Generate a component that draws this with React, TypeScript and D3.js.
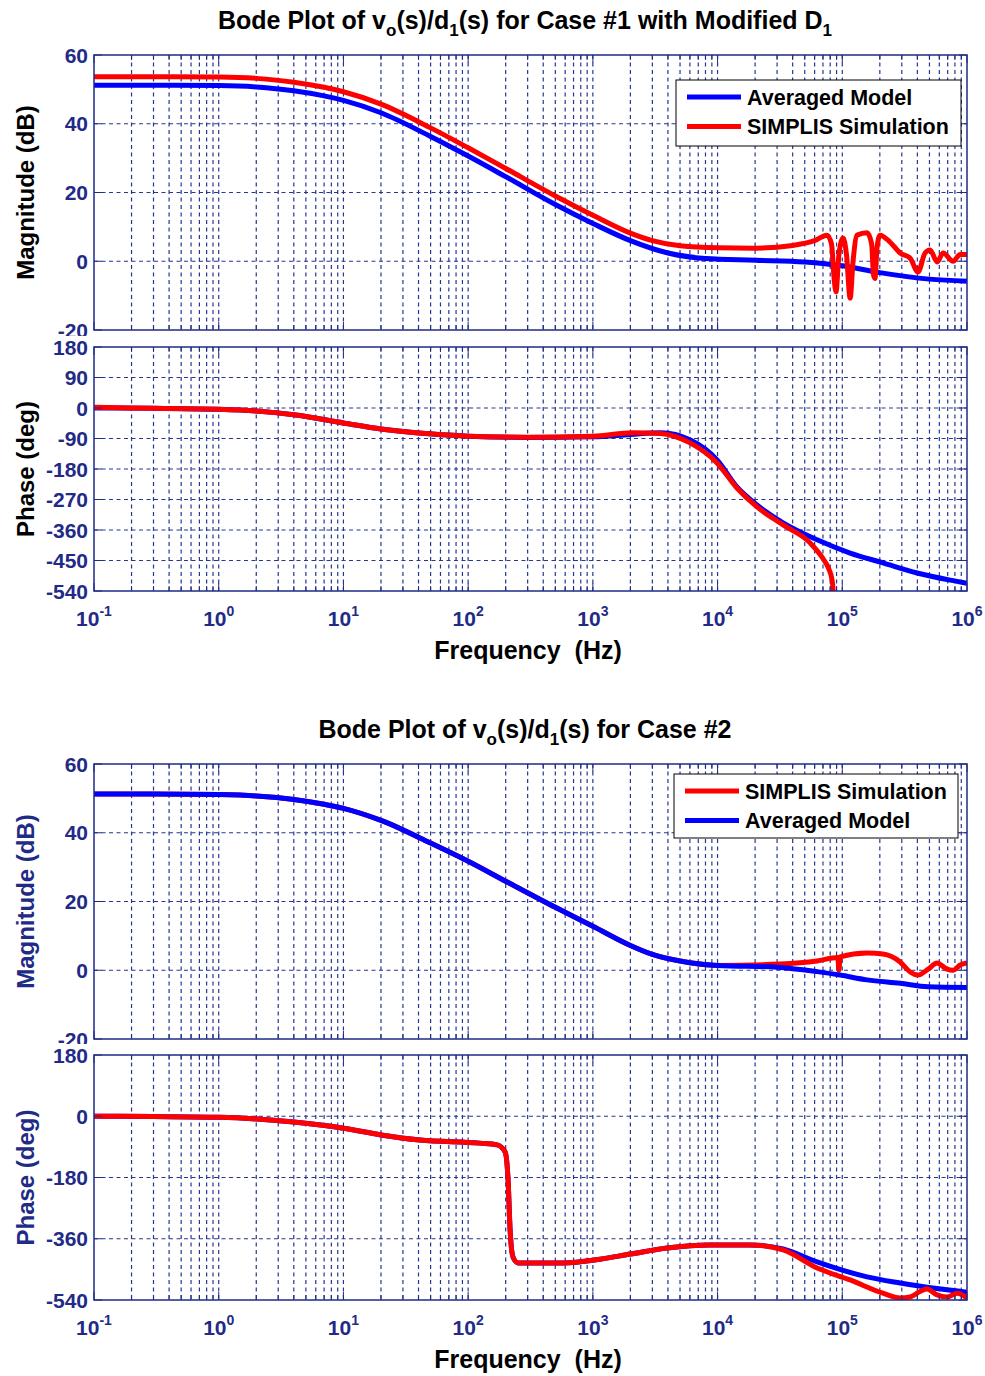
import React, { useEffect, useRef } from 'react'
import * as d3 from 'd3'

// axis ticks
const decades = [-1, 0, 1, 2, 3, 4, 5, 6]
const magTicks = [60, 40, 20, 0, -20]
const phaseTicksCase1 = [180, 90, 0, -90, -180, -270, -360, -450, -540]
const phaseTicksCase2 = [180, 0, -180, -360, -540]

type Pt = [number, number] // [frequency in Hz, value]

// Case #1 magnitude (dB)
const case1MagAveraged: Pt[] = [
  [0.1, 51.2], [0.3, 51.2], [1, 51.1], [2, 50.7], [4, 49.6], [7, 48.1], [10, 46.8],
  [20, 43.2], [50, 36.3], [100, 30.6], [200, 24.6], [500, 16.5], [1000, 11], [2000, 6],
  [4000, 2.4], [8000, 0.8], [20000, 0.3], [50000, -0.2], [100000, -1.3], [200000, -3.3],
  [500000, -5.2], [1000000, -5.8],
]
const case1MagSimplis: Pt[] = [
  [0.1, 53.7], [0.3, 53.7], [1, 53.6], [2, 53.2], [4, 52.1], [7, 50.6], [10, 49.3],
  [20, 45.7], [50, 38.8], [100, 33], [200, 27], [500, 19], [1000, 13.4], [2000, 8.2],
  [3000, 6], [5000, 4.5], [10000, 3.9], [20000, 3.8], [40000, 4.6], [60000, 6], [75500, 7.6],
  [82000, 5], [86000, -5], [89000, -8.9], [94000, 2], [101500, 6.8], [108000, 2],
  [115600, -10.7], [122000, 0], [131500, 7.6], [158000, 8.3], [172000, 5], [178000, -4],
  [183000, -5], [190000, 4], [201000, 7.6], [241000, 5.6], [291000, 2.4], [350000, 0.9],
  [405000, -3.1], [461000, 2.4], [506000, 3.3], [576000, -0.2], [643000, 2.4],
  [774000, 0], [881000, 2], [1000000, 2],
]

// Case #1 phase (deg)
const case1PhaseAveraged: Pt[] = [
  [0.1, 0], [0.3, -1], [1, -4], [2, -9], [4, -20], [10, -44], [20, -62], [40, -74],
  [100, -83], [300, -87], [1000, -85], [2000, -78], [3500, -73], [6000, -94], [9900, -153],
  [14300, -233], [20700, -286], [33500, -339], [62800, -389], [115600, -428],
  [212000, -457], [398000, -487], [733000, -508], [1000000, -517],
]
const case1PhaseSimplis: Pt[] = [
  [0.1, 2], [0.3, -1], [1, -4], [2, -9], [4, -20], [10, -44], [20, -62], [40, -74],
  [100, -83], [300, -86], [1000, -83], [2100, -73], [3460, -75], [6020, -103],
  [9900, -162], [14300, -236], [20700, -292], [33500, -345], [55200, -398],
  [70200, -445], [78000, -475], [82800, -508], [84500, -540], [85000, -560],
]

// Case #2 magnitude (dB)
const case2MagAveraged: Pt[] = [
  [0.1, 51.3], [0.3, 51.3], [1, 51.1], [2, 50.7], [4, 49.7], [7, 48.3], [10, 47.1],
  [20, 43.6], [50, 37], [100, 31.7], [200, 25.9], [500, 18.3], [1000, 12.8], [2000, 7.2],
  [3000, 4.6], [6000, 2.2], [10000, 1.4], [30000, 0.9], [62800, -0.4], [96000, -1.4],
  [158000, -2.8], [291000, -3.8], [488000, -4.8], [1000000, -5],
]
const case2MagSimplis: Pt[] = [
  [0.1, 51.3], [0.3, 51.3], [1, 51.1], [2, 50.7], [4, 49.7], [7, 48.3], [10, 47.1],
  [20, 43.6], [50, 37], [100, 31.7], [200, 25.9], [500, 18.3], [1000, 12.8], [2000, 7.2],
  [3000, 4.6], [6000, 2.2], [10000, 1.4], [31700, 1.8], [62800, 2.7], [92000, 3.7],
  [94000, 0], [96000, 3.9], [158000, 5], [212000, 4.7], [291000, 2.4], [350000, -0.5],
  [405000, -1.4], [488000, 0.3], [576000, 2.1], [692000, 0.3], [774000, 0],
  [881000, 1.5], [1000000, 2.1],
]

// Case #2 phase (deg)
const case2PhaseAveraged: Pt[] = [
  [0.1, 0], [0.3, -1], [1, -3], [4, -17], [10, -35], [20, -55], [41, -70], [124, -79],
  [171, -84], [198, -105], [209, -187], [217, -334], [229, -414], [251, -431], [577, -431],
  [1140, -420], [2000, -405], [3940, -387], [8710, -378], [18200, -378], [33500, -390],
  [62800, -428], [158000, -472], [291000, -490], [530000, -505], [1000000, -517],
]
const case2PhaseSimplis: Pt[] = [
  [0.1, 0], [0.3, -1], [1, -3], [4, -17], [10, -35], [20, -55], [41, -70], [124, -79],
  [171, -84], [198, -105], [209, -187], [217, -334], [229, -414], [251, -431], [577, -431],
  [1140, -420], [2000, -405], [3940, -387], [8710, -378], [18200, -378], [33500, -393],
  [62800, -446], [115600, -481], [212000, -520], [291000, -534], [350000, -531],
  [420000, -515], [479000, -508], [576000, -525], [692000, -531], [834000, -520],
  [1000000, -534],
]

const X_LEFT = 94
const X_RIGHT = 967
const NAVY = '#1f2b86'
const GRID = '#27378f'
const FONT = '"Liberation Sans", Arial, sans-serif'
const BLUE = '#0000ff'
const RED = '#ff0000'

let clipCount = 0

function drawPanel(svg, opts) {
  const { top, bottom, domain, ticks, series, ylabel, ylabelColor, xlabels } = opts
  const x = d3.scaleLog().domain([0.1, 1e6]).range([X_LEFT, X_RIGHT])
  const y = d3.scaleLinear().domain(domain).range([bottom, top])
  const g = svg.append('g')

  g.append('rect')
    .attr('x', X_LEFT)
    .attr('y', top)
    .attr('width', X_RIGHT - X_LEFT)
    .attr('height', bottom - top)
    .attr('fill', 'white')

  // all 1..9 x 10^k positions
  const logTicks = []
  for (let k = -1; k < 6; k++) for (let m = 1; m < 10; m++) logTicks.push(m * Math.pow(10, k))
  logTicks.push(1e6)

  // dashed grid
  g.selectAll('.vgrid')
    .data(logTicks.filter((f) => f > 0.11 && f < 9.9e5))
    .enter()
    .append('line')
    .attr('x1', (d) => x(d))
    .attr('x2', (d) => x(d))
    .attr('y1', top)
    .attr('y2', bottom)
    .attr('stroke', GRID)
    .attr('stroke-width', 1.2)
    .attr('stroke-dasharray', '4,3.5')
  g.selectAll('.hgrid')
    .data(ticks.filter((t) => t !== domain[0] && t !== domain[1]))
    .enter()
    .append('line')
    .attr('x1', X_LEFT)
    .attr('x2', X_RIGHT)
    .attr('y1', (d) => y(d))
    .attr('y2', (d) => y(d))
    .attr('stroke', GRID)
    .attr('stroke-width', 1.2)
    .attr('stroke-dasharray', '4,3.5')

  // curves
  const clipId = 'clip' + clipCount++
  g.append('clipPath')
    .attr('id', clipId)
    .append('rect')
    .attr('x', X_LEFT)
    .attr('y', top)
    .attr('width', X_RIGHT - X_LEFT)
    .attr('height', bottom - top)
  const line = d3
    .line<Pt>()
    .x((d) => x(d[0]))
    .y((d) => y(d[1]))
    .curve(d3.curveMonotoneX)
  series.forEach((s) => {
    g.append('path')
      .datum(s.data)
      .attr('d', line)
      .attr('clip-path', 'url(#' + clipId + ')')
      .attr('fill', 'none')
      .attr('stroke', s.color)
      .attr('stroke-width', 5)
      .attr('stroke-linejoin', 'round')
  })

  // tick marks (inside, on all four sides)
  logTicks.forEach((f) => {
    const len = Number.isInteger(Math.log10(f)) ? 8 : 5
    g.append('line').attr('x1', x(f)).attr('x2', x(f)).attr('y1', bottom).attr('y2', bottom - len)
      .attr('stroke', NAVY).attr('stroke-width', 1)
    g.append('line').attr('x1', x(f)).attr('x2', x(f)).attr('y1', top).attr('y2', top + len)
      .attr('stroke', NAVY).attr('stroke-width', 1)
  })
  ticks.forEach((t) => {
    g.append('line').attr('x1', X_LEFT).attr('x2', X_LEFT + 8).attr('y1', y(t)).attr('y2', y(t))
      .attr('stroke', NAVY).attr('stroke-width', 1)
    g.append('line').attr('x1', X_RIGHT).attr('x2', X_RIGHT - 8).attr('y1', y(t)).attr('y2', y(t))
      .attr('stroke', NAVY).attr('stroke-width', 1)
  })

  // frame
  g.append('rect')
    .attr('x', X_LEFT)
    .attr('y', top)
    .attr('width', X_RIGHT - X_LEFT)
    .attr('height', bottom - top)
    .attr('fill', 'none')
    .attr('stroke', NAVY)
    .attr('stroke-width', 1.5)

  // white strip hides the bottom of the previous panel's lowest label
  svg.append('rect').attr('x', 30).attr('y', top - 11).attr('width', 63).attr('height', 9).attr('fill', 'white')

  // y tick labels
  ticks.forEach((t) => {
    svg.append('text')
      .attr('x', 88)
      .attr('y', y(t) + 7.5)
      .attr('text-anchor', 'end')
      .attr('font-family', FONT)
      .attr('font-weight', 'bold')
      .attr('font-size', 21)
      .attr('fill', NAVY)
      .text(t)
  })

  // y axis label
  svg.append('text')
    .attr('transform', 'translate(34,' + (top + bottom) / 2 + ') rotate(-90)')
    .attr('text-anchor', 'middle')
    .attr('font-family', FONT)
    .attr('font-weight', 'bold')
    .attr('font-size', 24)
    .attr('fill', ylabelColor)
    .text(ylabel)

  if (xlabels) {
    decades.forEach((k) => {
      const t = svg.append('text')
        .attr('x', x(Math.pow(10, k)))
        .attr('y', bottom + 35)
        .attr('text-anchor', 'middle')
        .attr('font-family', FONT)
        .attr('font-weight', 'bold')
        .attr('font-size', 21)
        .attr('fill', NAVY)
      t.append('tspan').text('10')
      t.append('tspan').attr('dy', -10).attr('font-size', 14).text(k)
    })
    svg.append('text')
      .attr('x', 528)
      .attr('y', bottom + 68)
      .attr('text-anchor', 'middle')
      .attr('font-family', FONT)
      .attr('font-weight', 'bold')
      .attr('font-size', 25)
      .attr('fill', 'black')
      .style('white-space', 'pre')
      .text('Frequency  (Hz)')
  }
}

function drawTitle(svg, yPos, parts) {
  const t = svg.append('text')
    .attr('x', 525)
    .attr('y', yPos)
    .attr('text-anchor', 'middle')
    .attr('font-family', FONT)
    .attr('font-weight', 'bold')
    .attr('font-size', 25)
    .attr('fill', 'black')
    .style('white-space', 'pre')
  let down = false
  parts.forEach((p) => {
    const sub = p.startsWith('_')
    const ts = t.append('tspan')
    if (sub) {
      ts.attr('dy', 7).attr('font-size', 17).text(p.slice(1))
      down = true
    } else {
      if (down) ts.attr('dy', -7)
      ts.attr('font-size', 25).text(p)
      down = false
    }
  })
}

function drawLegend(svg, x0, y0, w, h, entries) {
  svg.append('rect')
    .attr('x', x0)
    .attr('y', y0)
    .attr('width', w)
    .attr('height', h)
    .attr('fill', 'white')
    .attr('stroke', 'black')
    .attr('stroke-width', 1)
  entries.forEach((e, i) => {
    const cy = y0 + 17 + i * 29.5
    svg.append('line')
      .attr('x1', x0 + 11)
      .attr('x2', x0 + 65)
      .attr('y1', cy)
      .attr('y2', cy)
      .attr('stroke', e.color)
      .attr('stroke-width', 5)
    svg.append('text')
      .attr('x', x0 + 71)
      .attr('y', cy + 7.5)
      .attr('font-family', FONT)
      .attr('font-weight', 'bold')
      .attr('font-size', 21.5)
      .attr('fill', 'black')
      .text(e.label)
  })
}

export default function App() {
  const ref = useRef<SVGSVGElement>(null)

  useEffect(() => {
    const svg = d3.select(ref.current)
    svg.selectAll('*').remove()
    clipCount = 0

    // Case #1
    drawTitle(svg, 29, ['Bode Plot of v', '_o', '(s)/d', '_1', '(s) for Case #1 with Modified D', '_1'])
    drawPanel(svg, {
      top: 55, bottom: 330, domain: [-20, 60], ticks: magTicks,
      series: [{ data: case1MagAveraged, color: BLUE }, { data: case1MagSimplis, color: RED }],
      ylabel: 'Magnitude (dB)', ylabelColor: 'black', xlabels: false,
    })
    drawLegend(svg, 676, 80, 285, 66, [
      { label: 'Averaged Model', color: BLUE },
      { label: 'SIMPLIS Simulation', color: RED },
    ])
    drawPanel(svg, {
      top: 347, bottom: 591, domain: [-540, 180], ticks: phaseTicksCase1,
      series: [{ data: case1PhaseAveraged, color: BLUE }, { data: case1PhaseSimplis, color: RED }],
      ylabel: 'Phase (deg)', ylabelColor: 'black', xlabels: true,
    })

    // Case #2
    drawTitle(svg, 738, ['Bode Plot of v', '_o', '(s)/d', '_1', '(s) for Case #2'])
    drawPanel(svg, {
      top: 764, bottom: 1039, domain: [-20, 60], ticks: magTicks,
      series: [{ data: case2MagSimplis, color: RED }, { data: case2MagAveraged, color: BLUE }],
      ylabel: 'Magnitude (dB)', ylabelColor: NAVY, xlabels: false,
    })
    drawLegend(svg, 674, 774, 284, 64, [
      { label: 'SIMPLIS Simulation', color: RED },
      { label: 'Averaged Model', color: BLUE },
    ])
    drawPanel(svg, {
      top: 1055, bottom: 1300, domain: [-540, 180], ticks: phaseTicksCase2,
      series: [{ data: case2PhaseAveraged, color: BLUE }, { data: case2PhaseSimplis, color: RED }],
      ylabel: 'Phase (deg)', ylabelColor: NAVY, xlabels: true,
    })
  }, [])

  return (
    <svg
      ref={ref}
      width={985}
      height={1376}
      style={{ position: 'absolute', left: 0, top: 0, background: 'white' }}
    />
  )
}
